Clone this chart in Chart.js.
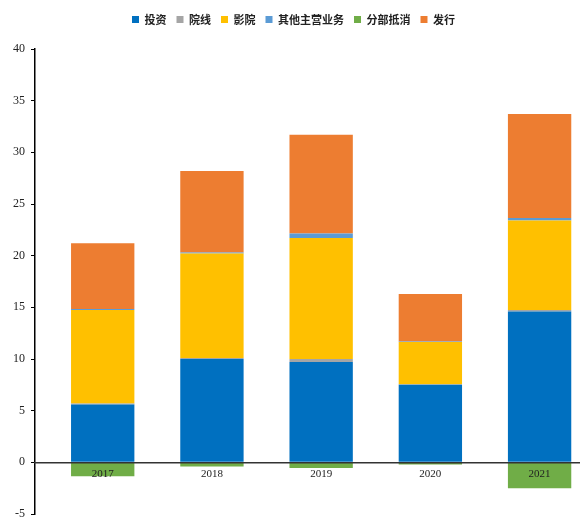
<!DOCTYPE html>
<html>
<head>
<meta charset="utf-8">
<title>收入结构</title>
<script src="https://cdn.jsdelivr.net/npm/chart.js"></script>
<style>
  html, body { margin: 0; padding: 0; background: #fff; }
  #wrap { width: 580px; height: 523px; }
</style>
</head>
<body>
<div id="wrap"><canvas id="c"></canvas></div>
<script>
// years and segment values (亿元)
var years = ["2017", "2018", "2019", "2020", "2021"];
var touzi = [5.6, 10.0, 9.7, 7.5, 14.6];        // 投资
var yuanxian = [0.1, 0.1, 0.3, 0.05, 0.15];     // 院线
var yingyuan = [9.05, 10.1, 11.7, 4.1, 8.65];   // 影院
var qita = [0.1, 0.1, 0.45, 0.05, 0.25];        // 其他主营业务
var dixiao = [-1.35, -0.4, -0.55, -0.2, -2.5];  // 分部抵消
var faxing = [6.35, 7.9, 9.55, 4.6, 10.05];     // 发行
var yTicks = [-5, 0, 5, 10, 15, 20, 25, 30, 35, 40];

var serif = "'Liberation Serif', 'DejaVu Serif', serif";

// x is a linear index (0..4) so the year slots can start a bit off the axis
function ds(label, data, color) {
  return {
    label: label,
    data: data.map(function (v, i) { return { x: i, y: v }; }),
    backgroundColor: color,
    borderWidth: 0,
    barPercentage: 0.58,
    categoryPercentage: 1.0,
    stack: "s"
  };
}

// extra gap under the legend
var legendGap = {
  id: "legendGap",
  beforeInit: function (chart) {
    var fit = chart.legend.fit;
    chart.legend.fit = function () {
      fit.call(this);
      this.height += 14;
    };
  }
};

new Chart(document.getElementById("c"), {
  type: "bar",
  data: {
    datasets: [
      ds("投资", touzi, "#0070C0"),
      ds("院线", yuanxian, "#A5A5A5"),
      ds("影院", yingyuan, "#FFC000"),
      ds("其他主营业务", qita, "#5B9BD5"),
      ds("分部抵消", dixiao, "#70AD47"),
      ds("发行", faxing, "#ED7D31")
    ]
  },
  plugins: [legendGap],
  options: {
    responsive: true,
    maintainAspectRatio: false,
    animation: false,
    layout: { padding: { top: 4, right: 0, bottom: 9, left: 7 } },
    plugins: {
      legend: {
        position: "top",
        labels: {
          boxWidth: 7,
          boxHeight: 7,
          padding: 10,
          color: "#222",
          font: { family: "'Noto Sans CJK SC', sans-serif", size: 11, weight: "bold" }
        }
      },
      tooltip: { enabled: false }
    },
    scales: {
      x: {
        type: "linear",
        stacked: true,
        offset: false,
        min: -0.62,
        max: 4.37,
        position: { y: 0 },
        afterBuildTicks: function (axis) {
          axis.ticks = years.map(function (y, i) { return { value: i }; });
        },
        // the axis sits on the zero line, so it needs no room at the bottom
        afterFit: function (axis) { axis.height = 0; },
        grid: { display: false, drawTicks: false },
        // year labels and the zero line sit on top of the bars
        border: { display: true, color: "#333", width: 1.5, z: 1 },
        ticks: {
          z: 1,
          padding: 5,
          color: "#222",
          font: { family: serif, size: 11 },
          callback: function (v) { return years[v]; }
        }
      },
      y: {
        stacked: true,
        min: -5,
        max: 40,
        afterBuildTicks: function (axis) {
          axis.ticks = yTicks.map(function (v) { return { value: v }; });
        },
        afterFit: function (axis) { axis.paddingBottom = 0; },
        grid: {
          display: true,
          drawOnChartArea: false,
          drawTicks: true,
          tickLength: 4,
          color: "#000"
        },
        border: { display: true, color: "#000", width: 1.5 },
        ticks: {
          padding: 6,
          color: "#222",
          font: { family: serif, size: 12 }
        }
      }
    }
  }
});
</script>
</body>
</html>
